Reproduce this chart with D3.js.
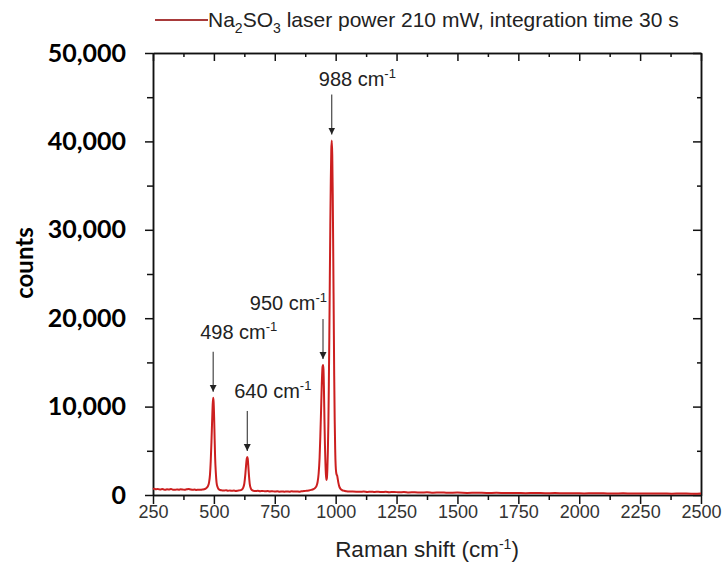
<!DOCTYPE html>
<html>
<head>
<meta charset="utf-8">
<script src="https://cdn.jsdelivr.net/npm/d3@7"></script>
<style>
  body { margin: 0; background: #fff; }
  svg { display: block; }
  .xlab text { font-family: "Liberation Sans", Arial, sans-serif; font-size: 18px; fill: #333; }
  .ylab text { font-family: Lato, "Open Sans", sans-serif; font-weight: bold; font-size: 25px; fill: #000; }
  .axis path, .axis line { stroke: #111; stroke-width: 1.5; }
  .note { font-family: "Liberation Sans", Arial, sans-serif; font-size: 20px; fill: #222; }
</style>
</head>
<body>
<div id="chart"></div>
<script>
// Raman spectrum of Na2SO3
var shift = [
  250, 256, 262, 268, 274, 280, 287, 294, 300, 308, 316, 324, 332, 340, 348, 356,
  364, 372, 380, 388, 396, 404, 412, 420, 428, 436, 444, 452, 460, 466, 471, 476,
  480, 484, 487, 490, 493, 495, 497, 499, 501, 503, 505, 508, 511, 515, 520, 526,
  534, 542, 550, 558, 566, 574, 582, 590, 598, 606, 614, 620, 625, 629, 632, 635,
  637, 639, 641, 644, 647, 651, 656, 662, 670, 680, 690, 700, 710, 720, 730, 740,
  750, 760, 770, 780, 790, 800, 810, 820, 830, 840, 850, 860, 870, 880, 890, 900,
  908, 915, 921, 926, 930, 934, 937, 940, 943, 946, 948, 950, 952, 954, 956, 958,
  960, 962, 964, 966, 968, 970, 972, 974, 976, 978, 980, 982, 984, 986, 988, 990,
  992, 994, 996, 998, 1000, 1002, 1004, 1006, 1008, 1011, 1015, 1020, 1026, 1034, 1044, 1056,
  1070, 1085, 1100, 1115, 1130, 1145, 1160, 1175, 1190, 1205, 1220, 1240, 1260, 1280, 1300, 1325,
  1350, 1375, 1400, 1430, 1460, 1500, 1540, 1580, 1620, 1660, 1700, 1740, 1780, 1820, 1860, 1900,
  1940, 1980, 2020, 2060, 2100, 2140, 2180, 2220, 2260, 2300, 2340, 2380, 2420, 2460, 2500
]
var counts = [
  680, 720, 640, 690, 650, 610, 670, 630, 590, 640, 620, 670, 600, 580, 630, 600,
  650, 620, 590, 640, 680, 630, 590, 610, 570, 600, 580, 620, 650, 720, 840, 1020,
  1400, 2300, 3800, 6000, 8600, 10200, 11000, 10500, 8800, 6400, 4300, 2500, 1400, 900, 650, 560,
  520, 500, 540, 480, 510, 470, 500, 460, 490, 520, 600, 800, 1300, 2300, 3300, 4100,
  4300, 4100, 3400, 2200, 1300, 800, 560, 480, 450, 470, 430, 460, 420, 440, 400, 430,
  390, 420, 380, 410, 370, 400, 380, 420, 390, 410, 380, 420, 440, 480, 520, 580,
  650, 780, 1000, 1500, 2400, 4200, 6600, 9500, 12500, 14500, 14700, 14200, 11800, 8500, 5600, 3600,
  2300, 1700, 1900, 3000, 5000, 8000, 12500, 18000, 24500, 30500, 35500, 39000, 40100, 38500, 34000, 27500,
  20500, 13500, 8500, 5200, 3300, 2600, 2300, 2200, 1900, 1400, 950, 700, 560, 480, 430, 400,
  390, 380, 370, 390, 350, 380, 340, 370, 330, 360, 320, 350, 300, 330, 290, 310,
  280, 300, 260, 290, 250, 270, 240, 260, 230, 250, 220, 240, 210, 230, 200, 220,
  190, 210, 180, 200, 190, 170, 190, 170, 180, 160, 180, 150, 170, 150, 160
]

// peak annotations
var peakNames = ['498', '640', '950', '988']
var peakShift = [497, 637, 948, 984]
var peakCounts = [11000, 4300, 14700, 40100]

// axis ticks
var xTicks = [250, 500, 750, 1000, 1250, 1500, 1750, 2000, 2250, 2500]
var xMinor = [375, 625, 875, 1125, 1375, 1625, 1875, 2125, 2375]
var yTicks = [0, 10000, 20000, 30000, 40000, 50000]
var yMinor = [5000, 15000, 25000, 35000, 45000]

var W = 724
var H = 564
var pLeft = 153
var pTop = 53
var pRight = 701
var pBottom = 495
var red = '#cc1f1f'

var svg = d3.select('#chart').append('svg')
  .attr('width', W)
  .attr('height', H)

var x = d3.scaleLinear().domain([250, 2500]).range([pLeft, pRight])
var y = d3.scaleLinear().domain([0, 50000]).range([pBottom, pTop])

// minor ticks first, then major axes with labels
svg.append('g').attr('class', 'axis')
  .attr('transform', 'translate(0,' + pBottom + ')')
  .call(d3.axisBottom(x).tickValues(xMinor).tickSize(5).tickSizeOuter(0).tickFormat(''))
svg.append('g').attr('class', 'axis')
  .attr('transform', 'translate(0,' + pTop + ')')
  .call(d3.axisTop(x).tickValues(xMinor).tickSize(-4).tickSizeOuter(0).tickFormat(''))
svg.append('g').attr('class', 'axis')
  .attr('transform', 'translate(0,' + pTop + ')')
  .call(d3.axisTop(x).tickValues(xTicks).tickSize(-8).tickSizeOuter(0).tickFormat(''))
svg.append('g').attr('class', 'axis')
  .attr('transform', 'translate(' + pLeft + ',0)')
  .call(d3.axisLeft(y).tickValues(yMinor).tickSize(6).tickSizeOuter(0).tickFormat(''))
svg.append('g').attr('class', 'axis')
  .attr('transform', 'translate(' + pRight + ',0)')
  .call(d3.axisRight(y).tickValues(yMinor).tickSize(-4).tickSizeOuter(0).tickFormat(''))
svg.append('g').attr('class', 'axis')
  .attr('transform', 'translate(' + pRight + ',0)')
  .call(d3.axisRight(y).tickValues(yTicks).tickSize(-8).tickSizeOuter(0).tickFormat(''))

svg.append('g').attr('class', 'axis xlab')
  .attr('transform', 'translate(0,' + pBottom + ')')
  .call(d3.axisBottom(x).tickValues(xTicks).tickSize(9).tickPadding(1).tickSizeOuter(0)
    .tickFormat(d3.format('d')))
svg.append('g').attr('class', 'axis ylab')
  .attr('transform', 'translate(' + pLeft + ',0)')
  .call(d3.axisLeft(y).tickValues(yTicks).tickSize(8).tickPadding(19).tickSizeOuter(0)
    .tickFormat(d3.format(',')))

// spectrum
var line = d3.line()
  .x(function (d, i) { return x(shift[i]) })
  .y(function (d) { return y(d) })
  .curve(d3.curveMonotoneX)

svg.append('path')
  .datum(counts)
  .attr('d', line)
  .attr('fill', 'none')
  .attr('stroke', red)
  .attr('stroke-width', 2)
  .attr('stroke-linejoin', 'round')

// arrows to peaks
svg.append('defs').append('marker')
  .attr('id', 'head')
  .attr('viewBox', '0 0 10 10')
  .attr('refX', 10).attr('refY', 5)
  .attr('markerWidth', 7).attr('markerHeight', 8)
  .attr('markerUnits', 'userSpaceOnUse')
  .attr('orient', 'auto')
  .append('path').attr('d', 'M0,0L10,5L0,10z').attr('fill', '#222')

var notes = svg.append('g')
peakNames.forEach(function (name, i) {
  var px = x(peakShift[i])
  var tip = y(peakCounts[i]) - 6
  notes.append('line')
    .attr('x1', px).attr('x2', px)
    .attr('y1', tip - 40).attr('y2', tip)
    .attr('stroke', '#222')
    .attr('stroke-width', 1)
    .attr('marker-end', 'url(#head)')
  var t = notes.append('text')
    .attr('class', 'note')
    .attr('x', name === '950' ? px + 4 : px - 13)
    .attr('y', tip - 40 - (name === '950' || name === '988' ? 9 : 13))
    .attr('text-anchor', name === '950' ? 'end' : 'start')
  t.append('tspan').text(name + ' cm')
  t.append('tspan').attr('dy', -8).attr('font-size', 13).text('-1')
})

// axis titles
var xt = svg.append('text')
  .attr('class', 'note')
  .attr('x', (pLeft + pRight) / 2)
  .attr('y', 557)
  .attr('text-anchor', 'middle')
  .style('font-size', '22.5px')
xt.append('tspan').text('Raman shift (cm')
xt.append('tspan').attr('dy', -8).attr('font-size', 14).text('-1')
xt.append('tspan').attr('dy', 8).text(')')

svg.append('text')
  .attr('transform', 'translate(33,263) rotate(-90)')
  .attr('text-anchor', 'middle')
  .style('font-family', 'Lato, "Open Sans", sans-serif')
  .style('font-weight', 'bold')
  .style('font-size', '24px')
  .text('counts')

// legend
svg.append('line')
  .attr('x1', 155).attr('x2', 208)
  .attr('y1', 20).attr('y2', 20)
  .attr('stroke', '#a83a3a')
  .attr('stroke-width', 2)
var lg = svg.append('text')
  .attr('class', 'note')
  .attr('x', 208)
  .attr('y', 27)
  .style('font-size', '21px')
lg.append('tspan').text('Na')
lg.append('tspan').attr('dy', 6).attr('font-size', 14).text('2')
lg.append('tspan').attr('dy', -6).text('SO')
lg.append('tspan').attr('dy', 6).attr('font-size', 14).text('3')
lg.append('tspan').attr('dy', -6).text(' laser power 210 mW, integration time 30 s')
</script>
</body>
</html>
